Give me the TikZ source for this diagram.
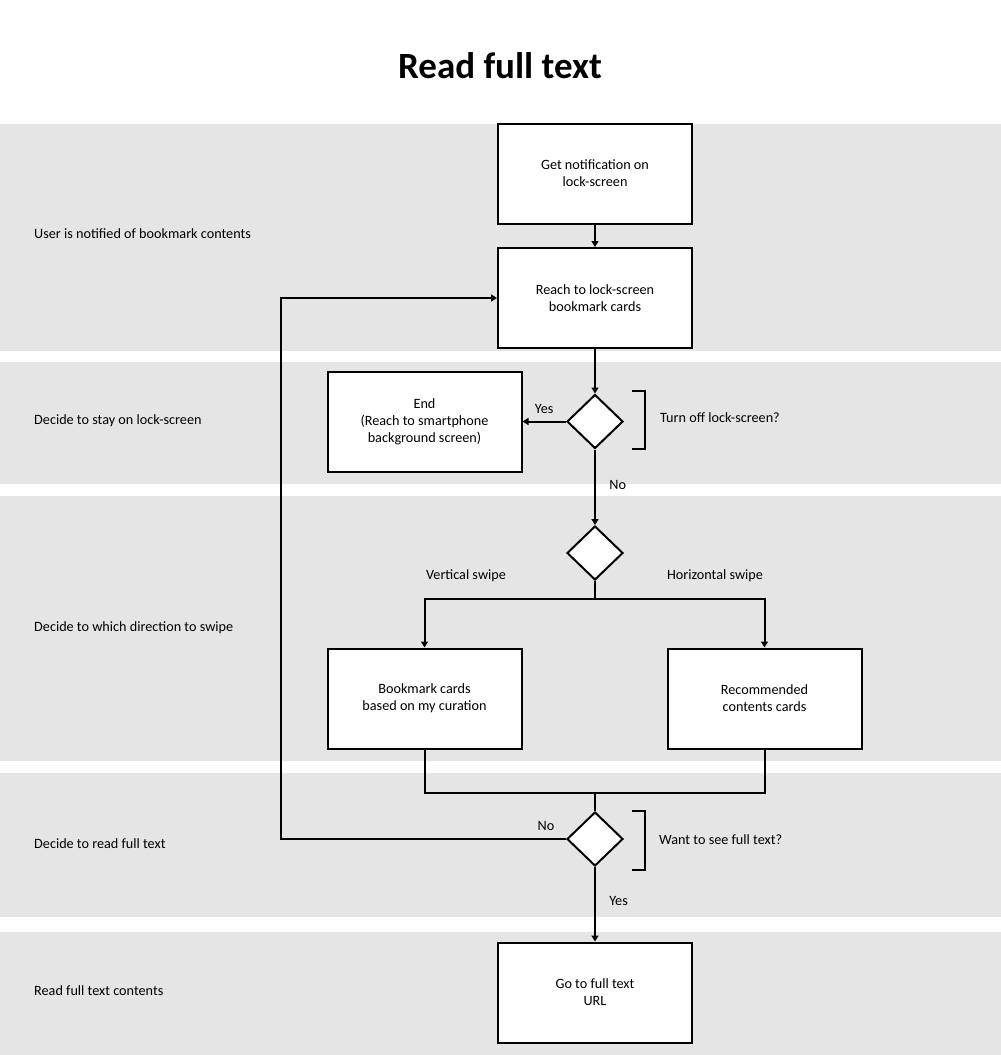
\documentclass[tikz,border=0pt]{standalone}
\usepackage{fontspec}
\setmainfont{Carlito}
\usetikzlibrary{shapes.geometric,arrows.meta}

\definecolor{laneGray}{RGB}{229,229,229}
\tikzset{
  lane/.style={fill=laneGray, draw=none},
  stepbox/.style={draw, line width=2pt, fill=white, minimum width=194pt, minimum height=100pt, align=center, inner sep=0pt, font=\fontsize{14.2}{17}\selectfont},
  choice/.style={draw, diamond, line width=2pt, fill=white, minimum width=56pt, minimum height=54pt, inner sep=0pt},
  lanetext/.style={anchor=west, inner sep=0pt, font=\fontsize{14.2}{17}\selectfont},
  small/.style={font=\fontsize{14.2}{17}\selectfont},
  flow/.style={line width=2pt, -{Triangle[width=7pt,length=6pt]}},
  line/.style={line width=2pt}
}

\begin{document}
\begin{tikzpicture}[x=1pt, y=-1pt]
\useasboundingbox (0,0) rectangle (1001,1055);

% swim lanes
\path[lane] (0,124) rectangle (1001,351);
\path[lane] (0,362) rectangle (1001,484);
\path[lane] (0,496) rectangle (1001,761);
\path[lane] (0,773) rectangle (1001,917);
\path[lane] (0,932) rectangle (1001,1055);

\node (title) at (500,66) {\fontsize{37}{44}\selectfont\bfseries Read full text};

\node[lanetext] (l1) at (34,234) {User is notified of bookmark contents};
\node[lanetext] (l2) at (34,421) {Decide to stay on lock-screen};
\node[lanetext] (l3) at (34,628) {Decide to which direction to swipe};
\node[lanetext] (l4) at (34,844) {Decide to read full text};
\node[lanetext] (l5) at (34,991) {Read full text contents};

% steps
\node[stepbox] (notify) at (595,173.5) {Get notification on\\lock-screen};
\node[stepbox] (reach) at (595,298) {Reach to lock-screen\\bookmark cards};
\node[choice] (turnoff) at (595,421.5) {};
\node[stepbox] (endbox) at (424.5,421.5) {End\\(Reach to smartphone\\background screen)};
\node[choice] (swipe) at (595,553) {};
\node[stepbox] (mycards) at (424.5,698.5) {Bookmark cards\\based on my curation};
\node[stepbox] (reccards) at (764.5,698.5) {Recommended\\contents cards};
\node[choice] (fulltext) at (595,839) {};
\node[stepbox] (gourl) at (595,992.5) {Go to full text\\URL};

% questions
\draw[line] ([xshift=37pt,yshift=30.5pt]turnoff.center) -- ++(13,0) -- ++(0,58) -- ++(-13,0);
\node[small, anchor=west, inner sep=0pt] (q1) at (660,418) {Turn off lock-screen?};
\draw[line] ([xshift=37pt,yshift=28pt]fulltext.center) -- ++(13,0) -- ++(0,59) -- ++(-13,0);
\node[small, anchor=west, inner sep=0pt] (q2) at (659,840) {Want to see full text?};

% connectors
\path[draw,flow] (notify) -- (reach);
\path[draw,flow] (reach) -- (turnoff);
\path[draw,flow] (turnoff) -- (endbox) node[small, midway, above=4pt] {Yes};
\path[draw,flow] (turnoff) -- (swipe) node[small, pos=0.47, right=10pt] {No};

\coordinate (split) at (595,599);
\path[draw,line] (swipe.south) -- (split);
\path[draw,flow] (split) -| (mycards.north);
\path[draw,flow] (split) -| (reccards.north);
\node[small] (vs) at (466,576) {Vertical swipe};
\node[small] (hs) at (715,576) {Horizontal swipe};

\coordinate (join) at (595,793);
\path[draw,line] (mycards.south) |- (join) -| (reccards.south);
\path[draw,line] (join) -- (fulltext.north);

\coordinate (back) at (281,839);
\path[draw,flow] (fulltext.west) -- (back) |- (reach.west);
\node[small] (no2) at (546,826) {No};
\path[draw,flow] (fulltext) -- (gourl) node[small, pos=0.45, right=10pt] {Yes};
\end{tikzpicture}
\end{document}
